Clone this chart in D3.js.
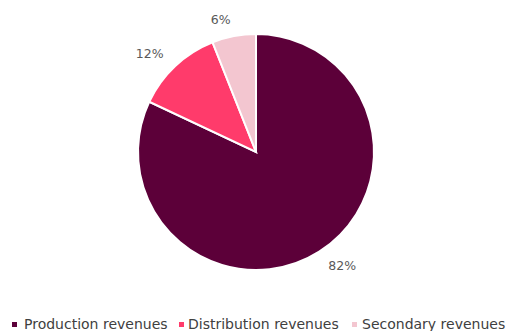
<!DOCTYPE html>
<html>
<head>
<meta charset="utf-8">
<script src="https://cdn.jsdelivr.net/npm/d3@7"></script>
<style>
  body { margin: 0; background: #fff; }
  text { font-family: "DejaVu Sans", Verdana, sans-serif; }
</style>
</head>
<body>
<div id="chart"></div>
<script>
// data
var categories = ["Production revenues", "Distribution revenues", "Secondary revenues"];
var shares = [82, 12, 6];
var colors = ["#5c0039", "#ff3b6b", "#f3c6d0"];

var width = 509, height = 331;
var cx = 256, cy = 152, r = 118;

var svg = d3.select("#chart").append("svg")
	.attr("width", width)
	.attr("height", height);

var data = categories.map(function(c, i){
	return {name: c, value: shares[i], color: colors[i]};
});

var pie = d3.pie().sort(null).value(function(d){ return d.value; });
var arc = d3.arc().innerRadius(0).outerRadius(r);
var labelArc = d3.arc().innerRadius(135).outerRadius(135);

var g = svg.append("g").attr("transform", "translate(" + cx + "," + cy + ")");

g.selectAll("path")
	.data(pie(data))
	.enter()
	.append("path")
	.attr("d", arc)
	.attr("fill", function(d){ return d.data.color; })
	.attr("stroke", "white")
	.attr("stroke-width", 2);

//labels outside, anchored away from the pie
g.selectAll("text.lbl")
	.data(pie(data))
	.enter()
	.append("text")
	.attr("class", "lbl")
	.attr("transform", function(d){ return "translate(" + labelArc.centroid(d) + ")"; })
	.attr("dy", "0.35em")
	.attr("text-anchor", function(d){ return labelArc.centroid(d)[0] < 0 ? "end" : "start"; })
	.attr("font-size", 12.5)
	.attr("fill", "#595959")
	.text(function(d){ return d.data.value + "%"; });

//legend
var markX = [12, 179, 352];
var textX = [24, 188, 362];
var leg = svg.selectAll("g.leg")
	.data(data)
	.enter()
	.append("g")
	.attr("class", "leg");

leg.append("rect")
	.attr("x", function(d, i){ return markX[i]; })
	.attr("y", 322)
	.attr("width", 5)
	.attr("height", 5)
	.attr("fill", function(d){ return d.color; });

leg.append("text")
	.attr("x", function(d, i){ return textX[i]; })
	.attr("y", 324.5)
	.attr("dy", "0.35em")
	.attr("font-size", 14)
	.attr("fill", "#404040")
	.text(function(d){ return d.name; });
</script>
</body>
</html>
